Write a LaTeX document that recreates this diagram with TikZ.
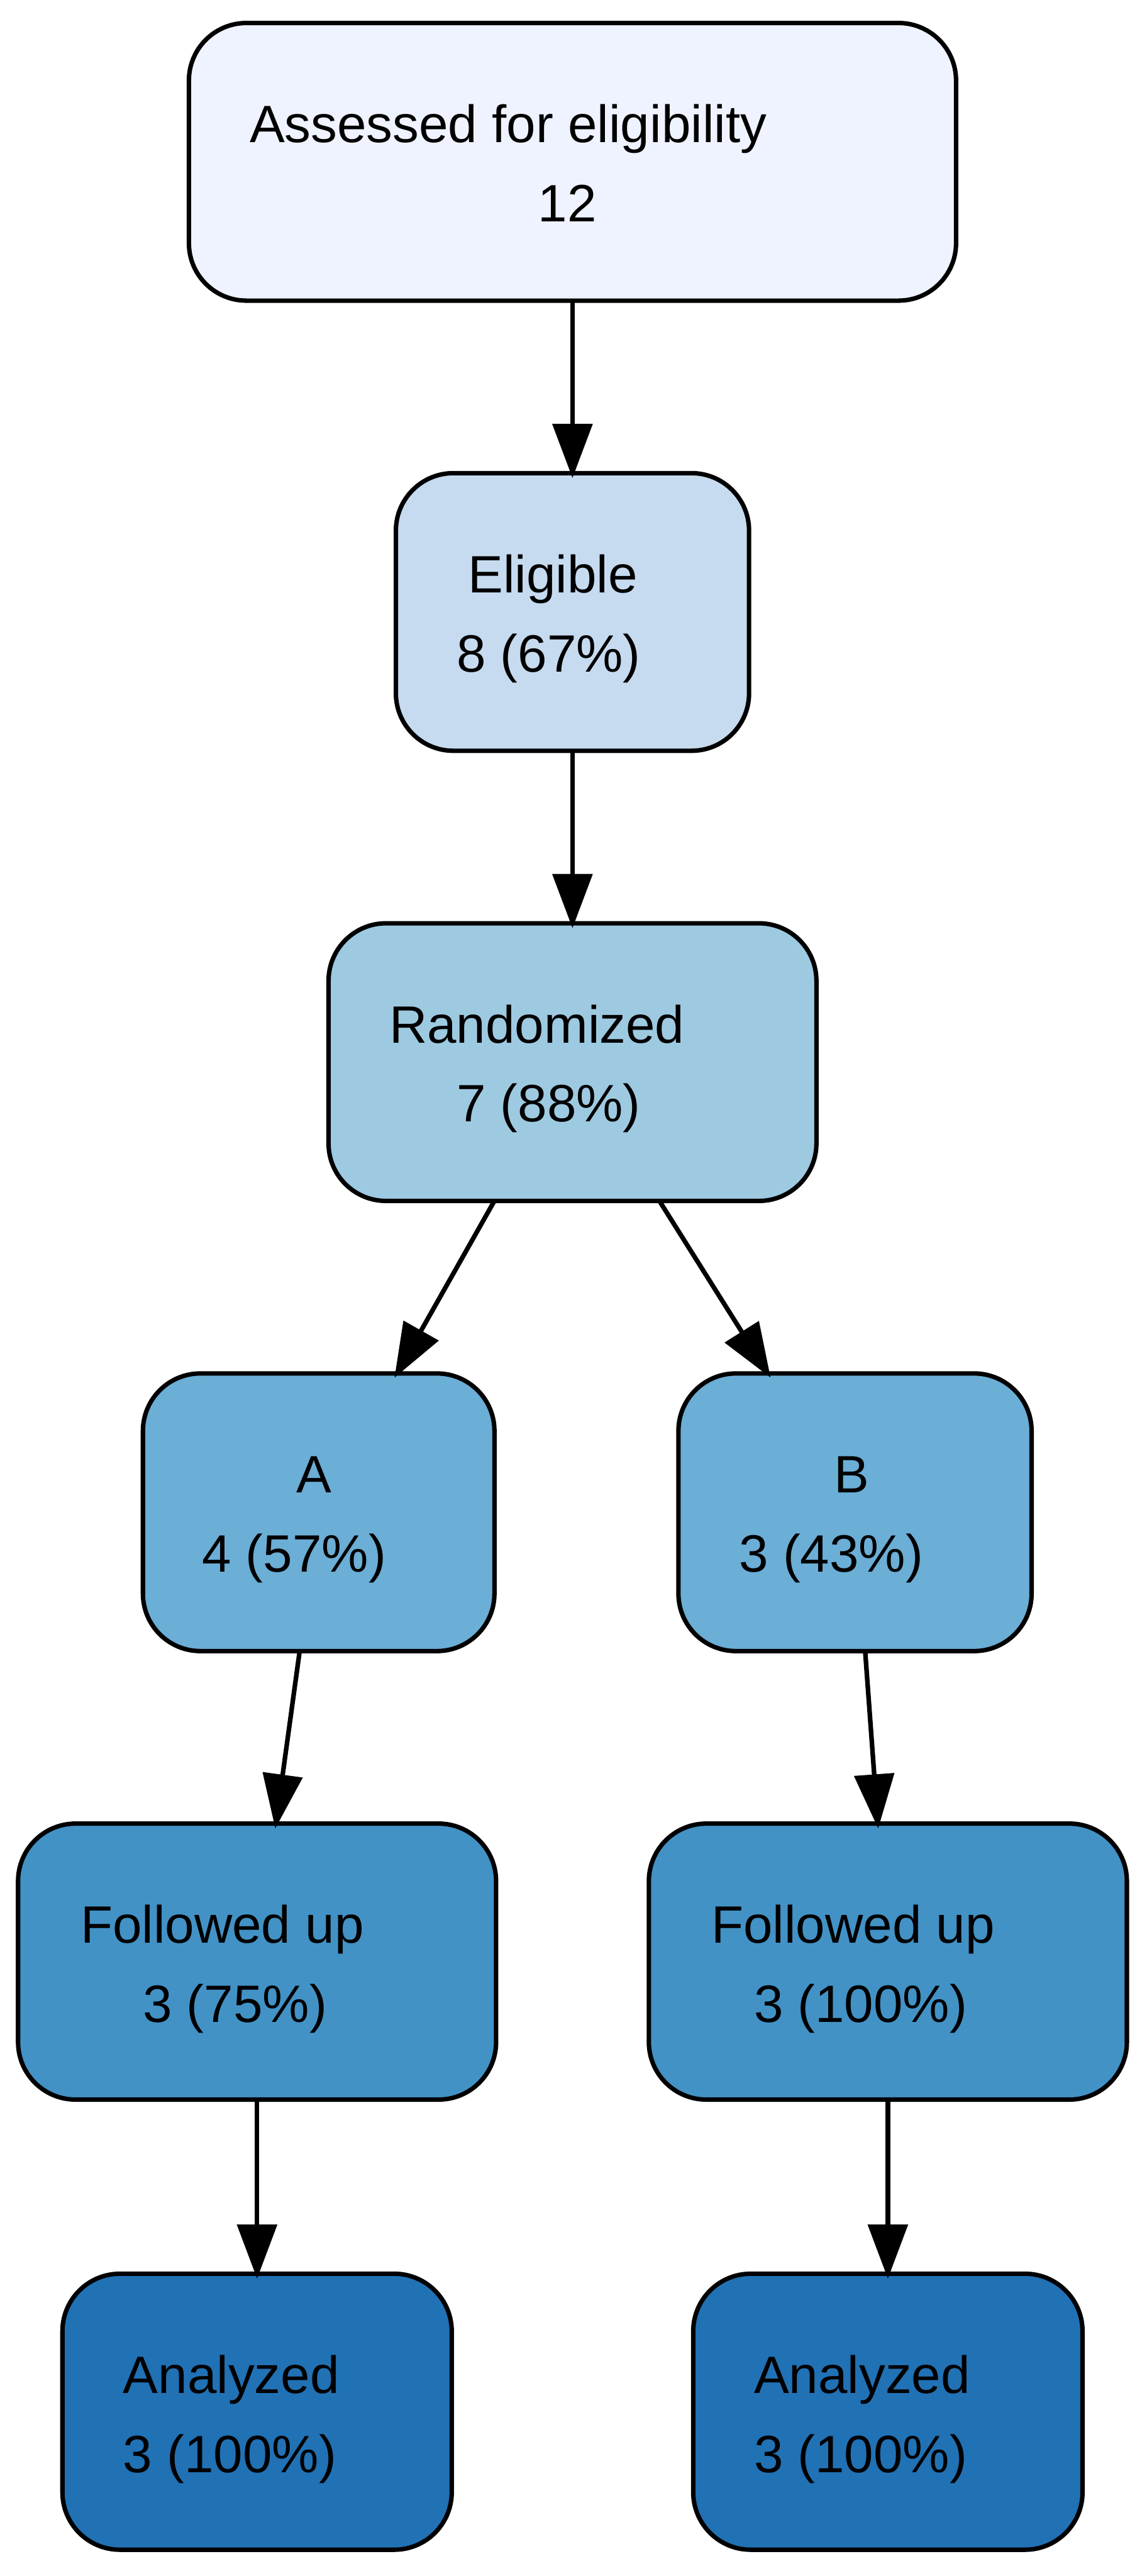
\documentclass[tikz,border=0pt]{standalone}
\usepackage{fontspec}
\setmainfont{Liberation Sans}
\usetikzlibrary{arrows.meta}
\definecolor{b1}{HTML}{EFF3FF}
\definecolor{b2}{HTML}{C6DBEF}
\definecolor{b3}{HTML}{9ECAE1}
\definecolor{b4}{HTML}{6BAED6}
\definecolor{b5}{HTML}{4292C6}
\definecolor{b6}{HTML}{2171B5}
\begin{document}
\begin{tikzpicture}[x=1pt,y=-1pt,
  box/.style={draw=black, line width=2.7pt, rounded corners=35pt, inner sep=0pt, outer sep=0pt, minimum height=169pt},
  lab/.style={inner sep=0pt, outer sep=0pt, font=\fontsize{32}{38}\selectfont},
  conn/.style={line width=2.8pt, shorten >=-3pt, -{Triangle[length=33pt,width=24pt]}}]
\path[use as bounding box, fill=white] (0,0) rectangle (698,1568);
\node[box, fill=b1, minimum width=467pt] (assess) at (348.5,98.5) {};
\node[box, fill=b2, minimum width=215pt] (elig) at (348.5,372.5) {};
\node[box, fill=b3, minimum width=297pt] (rand) at (348.5,646.5) {};
\node[box, fill=b4, minimum width=214pt] (armA) at (194,920.5) {};
\node[box, fill=b4, minimum width=215pt] (armB) at (520.5,920.5) {};
\node[box, fill=b5, minimum width=291pt, minimum height=168pt] (fuA) at (156.5,1194) {};
\node[box, fill=b5, minimum width=291pt, minimum height=168pt] (fuB) at (540.5,1194) {};
\node[box, fill=b6, minimum width=237pt, minimum height=168pt] (anA) at (156.5,1468) {};
\node[box, fill=b6, minimum width=237pt, minimum height=168pt] (anB) at (540.5,1468) {};
% labels
\node[lab, anchor=base west] (t1a) at (152,86.8) {Assessed for eligibility};
\node[lab, anchor=base] (t1b) at (345.3,134.9) {12};
\node[lab, anchor=base west] (t2a) at (285,360.8) {Eligible};
\node[lab, anchor=base west] (t2b) at (278,408.9) {8 (67\%)};
\node[lab, anchor=base west] (t3a) at (237,634.8) {Randomized};
\node[lab, anchor=base west] (t3b) at (278,682.9) {7 (88\%)};
\node[lab, anchor=base] (tAa) at (191,908.5) {A};
\node[lab, anchor=base west] (tAb) at (123,956.8) {4 (57\%)};
\node[lab, anchor=base] (tBa) at (518.4,908.5) {B};
\node[lab, anchor=base west] (tBb) at (450,956.8) {3 (43\%)};
\node[lab, anchor=base west] (tFAa) at (49,1182.8) {Followed up};
\node[lab, anchor=base west] (tFAb) at (87,1230.9) {3 (75\%)};
\node[lab, anchor=base west] (tFBa) at (433,1182.8) {Followed up};
\node[lab, anchor=base west] (tFBb) at (459,1230.9) {3 (100\%)};
\node[lab, anchor=base west] (tNAa) at (75,1456.8) {Analyzed};
\node[lab, anchor=base west] (tNAb) at (75,1504.9) {3 (100\%)};
\node[lab, anchor=base west] (tNBa) at (459,1456.8) {Analyzed};
\node[lab, anchor=base west] (tNBb) at (459,1504.9) {3 (100\%)};
% connectors
\draw[conn] (assess) -- (elig);
\draw[conn] (elig) -- (rand);
\draw[conn] (rand) -- (armA);
\draw[conn] (rand) -- (armB);
\draw[conn] (armA) -- (fuA);
\draw[conn] (armB) -- (fuB);
\draw[conn] (fuA) -- (anA);
\draw[conn] (fuB) -- (anB);
\end{tikzpicture}
\end{document}
